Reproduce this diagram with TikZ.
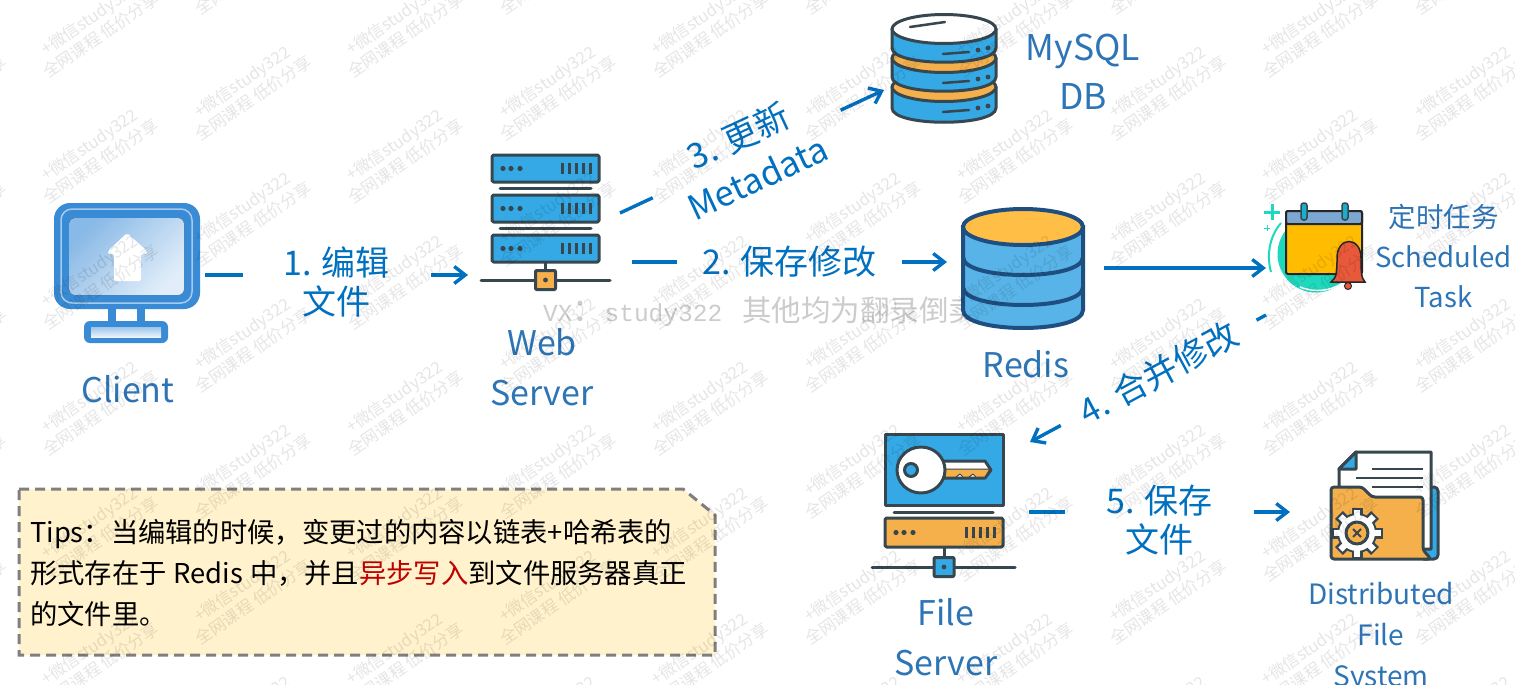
\documentclass[tikz,border=0pt]{standalone}
\usepackage{fontspec}
\setmainfont{Noto Sans CJK SC}
\setmonofont{Liberation Mono}
\usepackage{tikz}
\usetikzlibrary{arrows.meta}
\definecolor{stepblue}{HTML}{0070C0}
\definecolor{lblblue}{HTML}{2E75B6}
\definecolor{darkline}{HTML}{37474F}
\definecolor{rackblue}{HTML}{34A9E6}
\definecolor{rackorange}{HTML}{F5B04C}
\definecolor{monblue}{HTML}{3A8BD5}
\definecolor{redisblue}{HTML}{58B4E8}
\definecolor{redisline}{HTML}{1F4E80}
\definecolor{redistop}{HTML}{FFBF47}
\definecolor{tealdisc}{HTML}{1FD9BE}
\definecolor{calbody}{HTML}{FFBC00}
\definecolor{calhead}{HTML}{7BA7D2}
\definecolor{bellred}{HTML}{E8583A}
\definecolor{tipfill}{HTML}{FFF2CC}
\definecolor{tipedge}{HTML}{7F7F7F}
\tikzset{
  flow/.style={draw=stepblue,line width=3.4pt,-{Straight Barb[length=11pt,width=17pt,line width=3.4pt]}},
  steplbl/.style={fill=white,text=stepblue,inner sep=0pt,align=center,font=\fontsize{34}{39}\selectfont},
  biglbl/.style={text=lblblue,inner sep=0pt,align=center,font=\fontsize{34}{50}\selectfont},
  smalllbl/.style={text=lblblue,inner sep=0pt,align=center,font=\fontsize{27.5}{40}\selectfont},
  icon/.style={draw=darkline,line width=3pt,line join=round},
  wmarklbl/.style={text=black,text opacity=0.10,inner sep=0pt,align=center,rotate=34.4,font=\fontsize{16.5}{20}\selectfont}
}
\newcommand{\rackunit}[5]{
  \draw[icon,fill=#5,rounded corners=1.5pt] (#1,#2) rectangle (#3,#4);
  \foreach \d in {11,19,28} \fill[darkline] (#1+\d,{(#2+#4)/2}) circle (2.6);
  \foreach \b in {9,16,23,30,37} \draw[darkline,line width=3pt] (#3-\b,{(#2+#4)/2-5.5}) -- (#3-\b,{(#2+#4)/2+5.5});
}
\newcommand{\nettap}[6]{
  \draw[darkline,line width=3pt,line cap=round] (#4,#3) -- (#5,#3);
  \draw[darkline,line width=3pt] (#1,#2) -- (#1,#3);
  \draw[icon,fill=#6,rounded corners=1pt] (#1-10,#3-9.5) rectangle (#1+10,#3+9.5);
  \fill[darkline] (#1,#3) circle (2.4);
}
\newcommand{\dbdisk}[6]{
  \draw[icon,fill=#6] (#1,#3) -- (#1,#4) .. controls (#1,#4+19) and (#2,#4+19) .. (#2,#4) -- (#2,#3) -- cycle;
  \draw[icon,fill=#5] ({(#1+#2)/2},#3) ellipse [x radius=52,y radius=14.5];
}
\newcommand{\dbmark}[1]{
  \draw[darkline,line width=2.5pt,line cap=round] (943,#1+25) -- (969,#1+23);
  \fill[darkline] (978,#1+21) circle (2.4);
  \fill[darkline] (988,#1+19) circle (2.4);
}
\newcommand{\wmark}[3]{\node[wmarklbl] (wm#3) at (#1,#2) {+微信study322\\全网课程 低价分享};}

\begin{document}
\begin{tikzpicture}[x=1pt,y=-1pt]
\useasboundingbox (0,0) rectangle (1515,685);
\fill[white] (0,0) rectangle (1515,685);
% faint line behind redis
\node[anchor=west,inner sep=0pt,text=black!20,font=\fontsize{24.5}{29}\selectfont] (vx) at (543,312)
  {\ttfamily VX{\fontsize{32}{30}\selectfont\rmfamily ：}study322\hspace{20pt}\fontsize{29.5}{29}\selectfont\rmfamily 其他均为翻录倒卖};
% connector ends
\coordinate (client out) at (205,275);
\coordinate (web in) at (468,275);
\coordinate (web out) at (632,262);
\coordinate (redis in) at (947,262);
\coordinate (web up) at (620,213);
\coordinate (mysql in) at (884,90);
\coordinate (redis out) at (1104,268);
\coordinate (task in) at (1266,268);
\coordinate (task out) at (1266,315);
\coordinate (file in) at (1030,442);
\coordinate (file out) at (1029,512);
\coordinate (dfs in) at (1290,512);
% connectors
\draw[flow] (client out) -- node[steplbl,minimum width=188pt,yshift=-7pt] (edit) {1. 编辑\\文件} (web in);
\draw[flow] (web out) -- node[steplbl,minimum width=225pt] (save) {2. 保存修改} (redis in);
\draw[flow] (web up) -- node[steplbl,pos=.48,minimum width=207pt,rotate=25,yshift=-2pt,font=\fontsize{34.5}{46}\selectfont] (meta) {3. 更新\\Metadata} (mysql in);
\draw[flow] (redis out) -- (task in);
\draw[flow] (task out) -- node[steplbl,pos=.455,minimum width=222pt,rotate=28.3] (merge) {4. 合并修改} (file in);
\draw[flow] (file out) -- node[steplbl,minimum width=189pt,yshift=-8pt] (store) {5. 保存\\文件} (dfs in);
% client monitor
\fill[monblue] (108,305) rectangle (116,325);
\fill[monblue] (137,305) rectangle (145,325);
\fill[monblue,rounded corners=6pt] (84,321) -- (168,321) -- (168,343) -- (84,343) -- cycle;
\fill[top color=monblue!50,bottom color=monblue!10] (91,327) rectangle (161,337);
\fill[monblue,rounded corners=16pt] (54,203) rectangle (200,309);
\draw[monblue!45,line width=1.5pt,rounded corners=11pt] (61,209) rectangle (192,303);
\fill[top color=monblue!60,bottom color=monblue!15,shading angle=45,rounded corners=6pt] (69,218) rectangle (184,295);
\fill[white,rounded corners=2pt] (127,233) -- (147,251) -- (147,254) -- (141,254) -- (141,281) -- (114,281) -- (114,254) -- (108,254) -- (108,251) -- cycle;
\node[biglbl] (client) at (128,389) {Client};
% web server rack
\rackunit{492}{155}{599}{182}{rackblue}
\rackunit{492}{195}{599}{222}{rackblue}
\rackunit{492}{235}{599}{262}{rackblue}
\draw[darkline,line width=3pt,line cap=round] (500,188) -- (591,188);
\draw[darkline,line width=3pt,line cap=round] (500,228) -- (591,228);
\nettap{545.5}{262}{280}{481}{610}{rackorange}
\node[biglbl] (web) at (542,367) {Web\\Server};
% mysql stack
\dbdisk{892}{996}{87}{108}{rackorange}{rackblue}
\dbdisk{892}{996}{58}{77}{rackorange}{rackblue}
\dbdisk{892}{996}{29}{48}{white}{rackblue}
\draw[darkline,line width=2.5pt,line cap=round] (910,27) -- (945,22);
\dbmark{29}
\dbmark{58}
\dbmark{87}
\node[biglbl,font=\fontsize{35.5}{49}\selectfont] (mysql) at (1083,72) {MySQL\\DB};
% redis stack
\draw[redisline,line width=4pt,fill=redisblue] (963,227) -- (963,310) .. controls (963,334) and (1083,334) .. (1083,310) -- (1083,227) -- cycle;
\draw[redisline,line width=4pt] (963,257) .. controls (963,281) and (1083,281) .. (1083,257);
\draw[redisline,line width=4pt] (963,287) .. controls (963,311) and (1083,311) .. (1083,287);
\draw[redisline,line width=4pt,fill=redistop] (1023,227) ellipse [x radius=60,y radius=18];
\node[biglbl] (redis) at (1026,364) {Redis};
% scheduled task
\fill[tealdisc] (1316,254) circle (38.5);
\draw[tealdisc,line width=2pt] (1281,223) .. controls (1268,238) and (1267,258) .. (1271,272);
\draw[white,line width=1.5pt] (1300,287) .. controls (1315,293) and (1330,291) .. (1343,283);
\draw[tealdisc,line width=3pt] (1264,212) -- (1280,212) (1272,204) -- (1272,220);
\draw[tealdisc,line width=1pt] (1264,228) -- (1270,228) (1267,225) -- (1267,231);
\draw[black!85,line width=2pt,fill=calbody,rounded corners=2pt] (1286,211) rectangle (1362,274);
\draw[black!85,line width=2pt,fill=calhead,rounded corners=2pt] (1286,211) rectangle (1362,224);
\draw[darkline,line width=1.5pt,fill=tealdisc!80!blue,rounded corners=2.5pt] (1301,203) rectangle (1307,220);
\draw[darkline,line width=1.5pt,fill=tealdisc!80!blue,rounded corners=2.5pt] (1342,203) rectangle (1348,220);
\draw[black!85,line width=1pt,fill=bellred] (1348,286) circle (3.5);
\draw[black!85,line width=1.5pt,fill=bellred] (1331,282) .. controls (1337,278) and (1337,270) .. (1337,258) .. controls (1337,236) and (1361,236) .. (1361,258) .. controls (1361,270) and (1361,278) .. (1365,282) -- cycle;
\node[smalllbl] (task) at (1443.5,256.5) {定时任务\\Scheduled\\Task};
% file server
\draw[icon,fill=rackblue] (885,434) rectangle (1003,505);
\draw[icon,fill=white] (943,461) -- (985,461) -- (991,470) -- (985,478) -- (943,478) -- cycle;
\draw[icon,line width=1pt,fill=rackorange] (945,469) -- (990,469) -- (985,477) -- (976,477) -- (973,474) -- (969,477) -- (963,477) -- (960,474) -- (956,477) -- (945,477) -- cycle;
\draw[icon,fill=white] (921,470) ellipse [x radius=24,y radius=23];
\draw[icon,fill=rackblue] (911,470) circle (6.5);
\draw[darkline,line width=3pt,line cap=round] (894,512) -- (993,512);
\rackunit{885}{518}{1003}{547}{rackorange}
\nettap{944}{547}{567}{872}{1015}{rackblue}
\node[biglbl] (file) at (946,637) {File\\Server};
% distributed file system folder
\draw[icon,fill=rackblue,rounded corners=4pt] (1420,487) -- (1438,487) -- (1438,559) -- (1420,559) -- cycle;
\draw[icon,fill=white] (1356,452) -- (1431,452) -- (1431,549) -- (1339,549) -- (1339,469) -- cycle;
\draw[icon,fill=rackblue] (1356,452) -- (1339,469) -- (1356,469) -- cycle;
\draw[darkline,line width=2.5pt] (1372,469) -- (1423,469) (1356,478) -- (1423,478) (1372,487) -- (1423,487);
\draw[icon,fill=rackorange,rounded corners=3pt] (1331,487) -- (1362,487) -- (1372,497) -- (1423,497) -- (1423,550) -- (1431,559) -- (1331,559) -- cycle;
\foreach \a in {0,45,...,315} \draw[darkline,line width=11pt] (1357,533) ++(\a:16) -- ++(\a:9.5);
\fill[darkline] (1357,533) circle (20);
\foreach \a in {0,45,...,315} \draw[white,line width=6pt] (1357,533) ++(\a:14) -- ++(\a:9.5);
\fill[white] (1357,533) circle (18);
\draw[icon,fill=rackorange] (1357,533) circle (11);
\draw[darkline,line width=2pt] (1353,529) -- (1361,537) (1353,537) -- (1361,529);
\node[smalllbl,font=\fontsize{28}{41}\selectfont] (dfs) at (1381,638) {Distributed\\File\\System};
% tips box
\draw[draw=tipedge,fill=tipfill,line width=3pt,dash pattern=on 10pt off 6pt] (19,489) -- (683,489) -- (715,515) -- (715,655) -- (19,655) -- cycle;
\node[anchor=north west,inner sep=0pt,text width=670pt,align=left,font=\fontsize{27.3}{41}\selectfont] (tips) at (30,519)
  {Tips：当编辑的时候，变更过的内容以链表+哈希表的\\形式存在于\hspace{7pt}Redis\hspace{7pt}中，并且\textcolor{red!75!black}{异步写入}到文件服务器真正\\的文件里。};
% watermark tiles
\foreach \i in {-1,...,4} \foreach \j in {-1,...,5} {
  \wmark{95+305*\i}{27+126*\j}{a\i\j}
  \wmark{247.5+305*\i}{90+126*\j}{b\i\j}
}
\end{tikzpicture}
\end{document}
